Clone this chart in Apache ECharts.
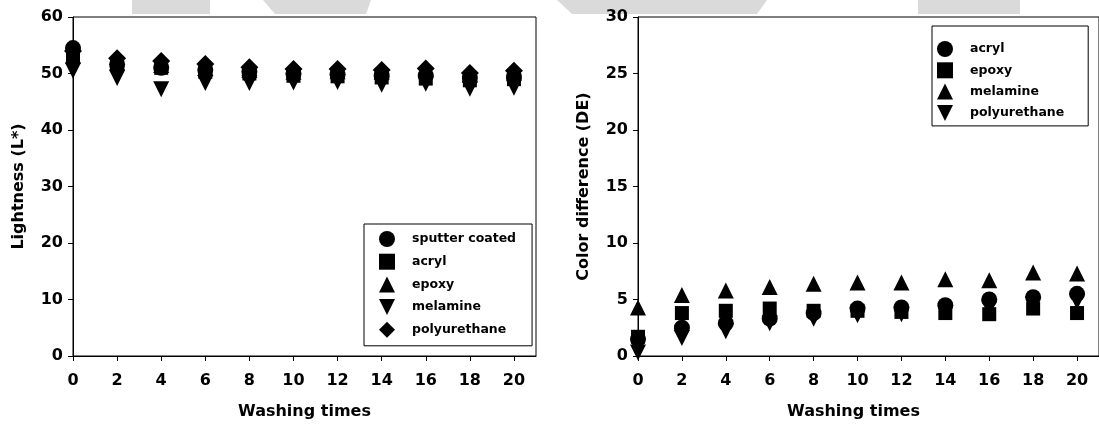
<!DOCTYPE html>
<html>
<head>
<meta charset="utf-8">
<script src="https://cdn.jsdelivr.net/npm/echarts@6/dist/echarts.min.js"></script>
<style>
  html, body { margin: 0; padding: 0; background: #fff; }
  #main { width: 1099px; height: 428px; }
</style>
</head>
<body>
<div id="main"></div>
<script>
// washing times (x) and tick values
const washTimes = [0, 2, 4, 6, 8, 10, 12, 14, 16, 18, 20];
const xTicks = [0, 2, 4, 6, 8, 10, 12, 14, 16, 18, 20];

// left panel: lightness L*
const lightNames = ['sputter coated', 'acryl', 'epoxy', 'melamine', 'polyurethane'];
const lightSputter = [54.5, 51.6, 51.0, 50.6, 50.3, 50.0, 49.8, 49.6, 49.6, 49.2, 49.4];
const lightAcryl = [53.0, 51.5, 51.0, 50.3, 50.0, 49.6, 49.5, 49.3, 49.1, 48.8, 49.0];
const lightEpoxy = [53.2, 52.0, 51.5, 51.0, 50.6, 50.3, 50.4, 50.3, 50.6, 49.8, 50.4];
const lightMelamine = [50.5, 49.2, 47.2, 48.3, 48.3, 48.4, 48.5, 48.0, 48.2, 47.3, 47.5];
const lightPoly = [54.0, 52.7, 52.2, 51.7, 51.1, 50.8, 50.8, 50.6, 50.9, 50.1, 50.5];

// right panel: color difference DE
const deNames = ['acryl', 'epoxy', 'melamine', 'polyurethane'];
const deAcryl = [1.5, 2.5, 2.9, 3.3, 3.8, 4.2, 4.3, 4.5, 5.0, 5.2, 5.5];
const deEpoxy = [1.7, 3.8, 4.0, 4.2, 4.0, 4.0, 3.9, 3.8, 3.7, 4.2, 3.8];
const deMelamine = [4.3, 5.4, 5.8, 6.1, 6.4, 6.5, 6.5, 6.8, 6.7, 7.4, 7.3];
const dePoly = [0.3, 1.6, 2.2, 2.9, 3.3, 3.6, 3.7, 4.0, 4.2, 4.6, 4.8];

const FONT = 'DejaVu Sans';
const downTri = 'path://M0,0L10,0L5,10Z';

function pts(ys) {
  return washTimes.map((x, i) => [x, ys[i]]);
}

function scatter(name, ys, symbol, size, axisIdx) {
  return {
    name: name,
    type: 'scatter',
    xAxisIndex: axisIdx,
    yAxisIndex: axisIdx,
    symbol: symbol,
    symbolSize: size,
    itemStyle: { color: '#000', opacity: 1 },
    emphasis: { disabled: true },
    data: pts(ys)
  };
}

function xAxis(gridIdx, namePad) {
  return {
    type: 'value',
    gridIndex: gridIdx,
    min: 0,
    max: 21,
    name: 'Washing times',
    nameLocation: 'middle',
    nameGap: 48,
    nameTextStyle: { fontFamily: FONT, fontWeight: 'bold', fontSize: 16, color: '#000', padding: namePad },
    axisLine: { show: true, onZero: false, lineStyle: { color: '#000', width: 1 } },
    axisTick: { show: true, inside: false, length: 5, customValues: xTicks, lineStyle: { color: '#000' } },
    axisLabel: { customValues: xTicks, margin: 17, fontFamily: FONT, fontWeight: 'bold', fontSize: 16, color: '#000' },
    splitLine: { show: false }
  };
}

function yAxis(gridIdx, max, step, name) {
  return {
    type: 'value',
    gridIndex: gridIdx,
    min: 0,
    max: max,
    interval: step,
    name: name,
    nameLocation: 'middle',
    nameGap: 46,
    nameTextStyle: { fontFamily: FONT, fontWeight: 'bold', fontSize: 16, color: '#000' },
    axisLine: { show: true, onZero: false, lineStyle: { color: '#000', width: 1 } },
    axisTick: { show: true, inside: false, length: 5, lineStyle: { color: '#000' } },
    axisLabel: { margin: 10, fontFamily: FONT, fontWeight: 'bold', fontSize: 16, color: '#000' },
    splitLine: { show: false }
  };
}

function legend(left, top, names, prefix, pad, gap) {
  return {
    orient: 'vertical',
    left: left,
    top: top,
    padding: pad,
    itemGap: gap,
    itemWidth: 16,
    itemHeight: 16,
    borderColor: '#000',
    borderWidth: 1,
    borderRadius: 0,
    selectedMode: false,
    data: names.map(n => prefix + n),
    formatter: n => n.slice(prefix.length),
    textStyle: { fontFamily: FONT, fontWeight: 'bold', fontSize: 12.5, color: '#000', padding: [0, 0, 0, 12] }
  };
}

// faint grey shapes along the top edge of the source image
const bgShapes = [
  [[132, 0], [210, 0], [210, 14], [132, 14]],
  [[263, 0], [371, 0], [366, 14], [275, 14]],
  [[557, 0], [767, 0], [757, 14], [572, 14]],
  [[918, 0], [1020, 0], [1020, 14], [918, 14]]
];

var myChart = echarts.init(document.getElementById('main'));

var option = {
  animation: false,
  backgroundColor: '#fff',
  graphic: bgShapes.map(p => ({
    type: 'polygon',
    z: -10,
    shape: { points: p },
    style: { fill: '#dadada' }
  })),
  grid: [
    { left: 73, top: 17, width: 463, height: 339, show: true, borderColor: '#000', borderWidth: 1, backgroundColor: 'transparent' },
    { left: 638, top: 17, width: 464, height: 339, show: true, borderColor: '#000', borderWidth: 1, backgroundColor: 'transparent' }
  ],
  xAxis: [xAxis(0, [0, 0, 0, 0]), xAxis(1, [0, 30, 0, 0])],
  yAxis: [
    yAxis(0, 60, 10, 'Lightness (L*)'),
    yAxis(1, 30, 5, 'Color difference (DE)')
  ],
  legend: [
    legend(364, 224, lightNames, 'L:', [7, 16, 8, 15], 6.7),
    legend(932, 26, deNames, 'D:', [15, 24, 5, 5], 5.3)
  ],
  series: [
    scatter('L:sputter coated', lightSputter, 'circle', 16, 0),
    scatter('L:acryl', lightAcryl, 'rect', 14, 0),
    scatter('L:epoxy', lightEpoxy, 'triangle', 16, 0),
    scatter('L:melamine', lightMelamine, downTri, 16, 0),
    scatter('L:polyurethane', lightPoly, 'diamond', 18, 0),
    scatter('D:acryl', deAcryl, 'circle', 16, 1),
    scatter('D:epoxy', deEpoxy, 'rect', 14, 1),
    scatter('D:melamine', deMelamine, 'triangle', 16, 1),
    scatter('D:polyurethane', dePoly, downTri, 16, 1)
  ]
};

myChart.setOption(option);
</script>
</body>
</html>
